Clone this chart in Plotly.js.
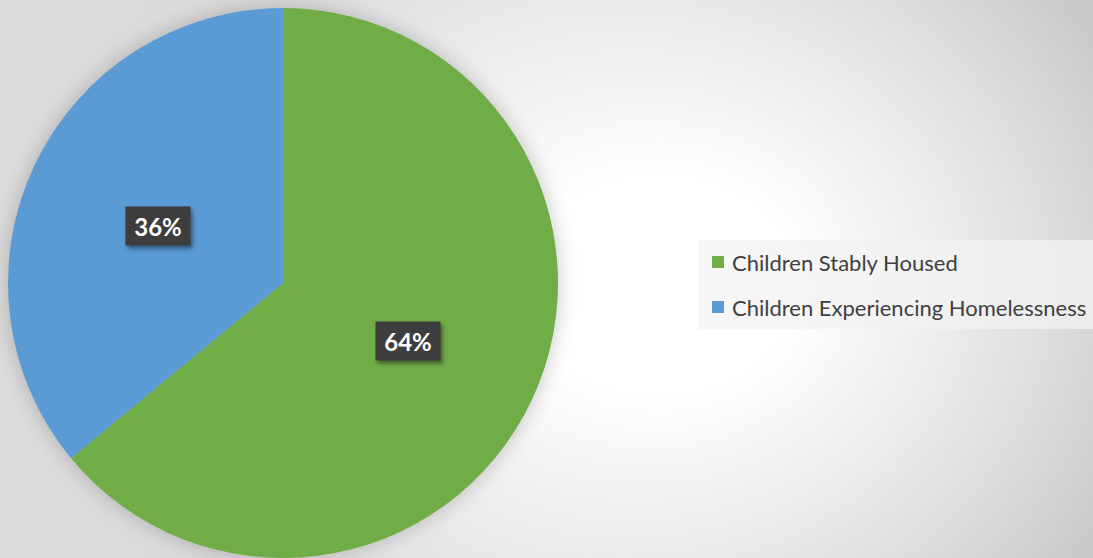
<!DOCTYPE html>
<html>
<head>
<meta charset="utf-8">
<script src="https://cdn.plot.ly/plotly-3.0.1.min.js"></script>
<style>
  html, body { margin: 0; padding: 0; }
  body {
    width: 1093px; height: 558px; overflow: hidden;
    background:
      radial-gradient(ellipse 540px 440px at 660px 285px, rgba(255,255,255,1) 0%, rgba(255,255,255,1) 25%, rgba(255,255,255,0) 100%),
      linear-gradient(90deg, #dcdcdc 0%, #d8d8d8 50%, #c9c9c9 100%);
  }
  #chart { width: 1093px; height: 558px; }
  .pielayer { filter: drop-shadow(0 0 10px rgba(0,0,0,0.22)); }
  .annotation .bg { filter: drop-shadow(2px 3px 2px rgba(0,0,0,0.45)); }
</style>
</head>
<body>
<div id="chart"></div>
<script>
const categories = ["Children Stably Housed", "Children Experiencing Homelessness"];
const values = [64, 36];
const colors = ["#70AD47", "#5B9BD5"];

const W = 1093, H = 558;
const total = values.reduce((a, b) => a + b, 0);
const pctLabels = values.map(v => Math.round(v / total * 100) + "%");

// label box centres (pixels)
const labelPos = [[408, 341], [158, 226]];
// legend rows (pixels)
const legendRows = [262, 307];

const annotations = [];
values.forEach((v, i) => {
  annotations.push({
    xref: "paper", yref: "paper",
    x: labelPos[i][0] / W, y: 1 - labelPos[i][1] / H,
    xanchor: "center", yanchor: "middle",
    text: "<b>" + pctLabels[i] + "</b>",
    showarrow: false,
    font: { family: "Lato, 'Open Sans', sans-serif", size: 24, color: "#ffffff" },
    bgcolor: "#3d3d3d",
    width: 56, height: 30, borderpad: 4
  });
});
const shapes = [{
  type: "rect", xref: "paper", yref: "paper",
  x0: 698 / W, x1: 1.01, y0: 1 - 329 / H, y1: 1 - 240 / H,
  fillcolor: "rgba(242,242,242,0.72)", line: { width: 0 }, layer: "below"
}];
categories.forEach((c, i) => {
  const cy = legendRows[i];
  shapes.push({
    type: "rect", xref: "paper", yref: "paper",
    x0: 712 / W, x1: 724 / W, y0: 1 - (cy + 6) / H, y1: 1 - (cy - 6) / H,
    fillcolor: colors[i], line: { width: 0 }
  });
  annotations.push({
    xref: "paper", yref: "paper",
    x: 730 / W, y: 1 - cy / H, xanchor: "left", yanchor: "middle",
    text: c, showarrow: false,
    font: { family: "Lato, 'Open Sans', sans-serif", size: 22, color: "#404040" }
  });
});

const data = [{
  type: "pie",
  labels: categories,
  values: values,
  marker: { colors: colors, line: { width: 0 } },
  sort: false,
  direction: "clockwise",
  rotation: 0,
  textinfo: "none",
  hoverinfo: "label+percent",
  showlegend: false,
  domain: { x: [8 / W, 558 / W], y: [0, 550 / H] }
}];

const layout = {
  width: W, height: H,
  margin: { l: 0, r: 0, t: 0, b: 0 },
  paper_bgcolor: "rgba(0,0,0,0)",
  plot_bgcolor: "rgba(0,0,0,0)",
  showlegend: false,
  annotations: annotations,
  shapes: shapes
};

Plotly.newPlot("chart", data, layout, { displayModeBar: false, staticPlot: true });
</script>
</body>
</html>
